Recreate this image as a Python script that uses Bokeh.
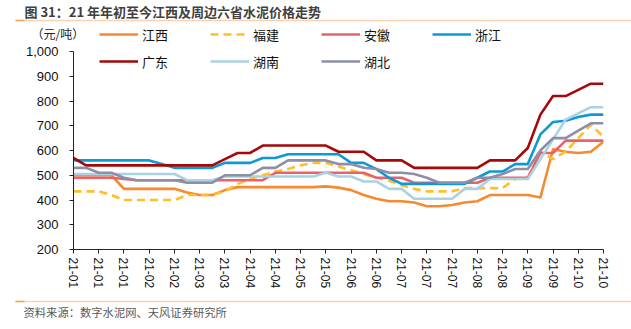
from bokeh.plotting import figure
from bokeh.layouts import column
from bokeh.models import (Range1d, FixedTicker, Label, Legend, LegendItem,
                          NumeralTickFormatter)
from bokeh.embed import file_html
from bokeh.resources import INLINE

# ---------------- data ----------------
weeks = list(range(43))
tick_idx = list(range(0, 43, 2))
tick_labels = ["21-01", "21-01", "21-01", "21-02", "21-02", "21-03", "21-03",
               "21-04", "21-04", "21-05", "21-05", "21-06", "21-06", "21-07",
               "21-07", "21-07", "21-08", "21-08", "21-09", "21-09", "21-10", "21-10"]
y_ticks = [200, 300, 400, 500, 600, 700, 800, 900, 1000]

jiangxi = [500, 500, 500, 500, 445, 445, 445, 445, 445, 430, 420, 420, 440,
           452, 452, 452, 452, 452, 452, 452, 455, 450, 440, 420, 405, 395, 395,
           390, 375, 375, 380, 390, 395, 420, 420, 420, 420, 410, 605, 595, 590,
           595, 635]
fujian = [435, 435, 435, 420, 400, 400, 400, 400, 400, 420, 420, 420, 435,
          465, 485, 500, 515, 525, 540, 550, 550, 535, 520, 505, 490, 478, 460,
          445, 435, 435, 435, 448, 448, 448, 448, 485, 490, 595, 565, 595, 650,
          705, 655]
anhui = [490, 490, 490, 490, 485] + [480] * 11 + [510] * 8 + [490] * 3 + \
        [470] * 6 + [490] * 4 + [590] * 2 + [640] * 4
zhejiang = [560] * 7 + [545] + [530] * 4 + [550] * 3 + [570] * 2 + [585] * 5 + \
           [550] * 2 + [525, 490] + [465] * 6 + [490] + [515] * 2 + [545] * 2 + \
           [665, 715, 720, 735, 745, 745]
guangdong = [570] + [540] * 11 + [565, 590, 590] + [620] * 6 + [595] * 3 + \
            [560] * 3 + [530] * 6 + [560] * 3 + [610, 745, 820, 820, 845, 870, 870]
hunan = [505] * 9 + [480] * 3 + [495] * 8 + [510] + [495] * 2 + [475] * 2 + \
        [445] * 2 + [405] * 4 + [445] * 2 + [485] * 4 + [565, 645, 725, 750, 775, 775]
hubei = [530, 530, 510, 510, 490, 480, 480, 480, 480, 470, 470, 470, 500, 500,
         500, 530, 530, 560, 560, 560, 560, 545, 545, 530, 525, 510, 510, 505,
         490, 470, 470, 470, 490, 490, 505, 525, 525, 600, 650, 650, 680, 710, 710]

series_names = ["江西", "福建", "安徽", "浙江", "广东", "湖南", "湖北"]
series_values = [jiangxi, fujian, anhui, zhejiang, guangdong, hunan, hubei]
series_colors = ["#F7892E", "#FFBE2C", "#E5646B", "#0C9AD6", "#A50808", "#AAD2E2", "#8C8FA8"]
series_dash = ["solid", "8 5", "solid", "solid", "solid", "solid", "solid"]

title_text = "图 31：21 年年初至今江西及周边六省水泥价格走势"
unit_text = "（元/吨）"
source_text = "资料来源：数字水泥网、天风证券研究所"

# ---------------- geometry (canvas pixels) ----------------
W = 631
HEAD_H = 44            # header strip: 0..44
CHART_BOT = 292        # chart strip: 44..292
FL, FR = 73, 603       # frame left/right
Y1000, Y200 = 51, 249  # pixel rows of 1000 and 200

CJK = "Noto Sans CJK SC"
LAT = "Liberation Sans"
LINE_LIGHT = "#FAD2B0"
LINE_DARK = "#F4A261"


def legend_kwargs():
    return dict(orientation="horizontal", glyph_width=39, glyph_height=20,
                label_height=20, label_standoff=4, spacing=42, padding=0, margin=0,
                border_line_alpha=0, background_fill_alpha=0, label_text_font=CJK,
                label_text_font_size="13px", label_text_color="#111111")


# ---------------- header ----------------
head = figure(width=W, height=HEAD_H, output_backend="svg", toolbar_location=None,
              x_range=Range1d(0, W), y_range=Range1d(HEAD_H, 0),
              x_axis_type=None, y_axis_type=None, frame_align=False,
              min_border_left=0, min_border_right=0, min_border_top=0, min_border_bottom=0)
head.grid.visible = False
head.outline_line_color = None
head.segment(x0=[15, 15], y0=[20, 20], x1=[W, 24], y1=[20, 20],
             line_color=[LINE_LIGHT, LINE_DARK], line_width=1.5)
head.add_layout(Label(x=24, y=11, text=title_text, text_font=CJK, text_font_style="bold",
                      text_font_size="13px", text_color="#404040", text_baseline="middle"))
head.add_layout(Label(x=31, y=33, text=unit_text, text_font=CJK, text_font_size="12px",
                      text_color="#222222", text_baseline="middle"))
# legend proxies for the first legend row (placed outside the visible range)
proxies = []
for i in range(4):
    proxies.append(head.line([-50, -40], [-50, -50], line_color=series_colors[i],
                             line_width=2.6, line_dash=series_dash[i]))
head.add_layout(Legend(items=[LegendItem(label=series_names[i], renderers=[proxies[i]])
                              for i in range(4)],
                       location=(99, 0), **legend_kwargs()))

# ---------------- chart ----------------
chart_h = CHART_BOT - HEAD_H
frame_h = Y200 - HEAD_H
px_per_unit = (Y200 - Y1000) / 800.0
y_top = 200 + frame_h / px_per_unit

p = figure(width=W, height=chart_h, output_backend="svg", toolbar_location=None,
           x_range=Range1d(0, 42), y_range=Range1d(200, y_top), frame_align=False,
           min_border_left=FL, min_border_right=W - FR,
           min_border_top=0, min_border_bottom=CHART_BOT - Y200)
p.xgrid.visible = False
p.ygrid.visible = False
p.outline_line_color = None

renderers = []
for name, vals, col, dash in zip(series_names, series_values, series_colors, series_dash):
    renderers.append(p.line(weeks, vals, line_color=col, line_width=2.6, line_dash=dash,
                            line_join="round"))

ya = p.yaxis[0]
ya.bounds = (200, 1000)
ya.ticker = FixedTicker(ticks=y_ticks)
ya.formatter = NumeralTickFormatter(format="0,0")
ya.major_tick_out = 4
ya.major_tick_in = 0
ya.minor_tick_out = 0
ya.minor_tick_in = 0
ya.axis_line_color = "#222222"
ya.major_tick_line_color = "#222222"
ya.major_label_standoff = 11
ya.major_label_text_font = LAT
ya.major_label_text_font_size = "13px"
ya.major_label_text_color = "#111111"

xa = p.xaxis[0]
xa.ticker = FixedTicker(ticks=tick_idx)
xa.major_label_overrides = {i: lab for i, lab in zip(tick_idx, tick_labels)}
xa.major_label_orientation = "vertical"
xa.major_tick_out = 4
xa.major_tick_in = 0
xa.minor_tick_out = 0
xa.minor_tick_in = 0
xa.axis_line_color = "#222222"
xa.major_tick_line_color = "#222222"
xa.major_label_standoff = 4
xa.major_label_text_font = LAT
xa.major_label_text_font_size = "12px"
xa.major_label_text_color = "#111111"

p.add_layout(Legend(items=[LegendItem(label=series_names[i], renderers=[renderers[i]])
                           for i in range(4, 7)],
                    location=(99 - FL, Y200 - 71), **legend_kwargs()))

# ---------------- footer ----------------
foot_h = 329 - CHART_BOT
foot = figure(width=W, height=foot_h, output_backend="svg", toolbar_location=None,
              x_range=Range1d(0, W), y_range=Range1d(329, CHART_BOT),
              x_axis_type=None, y_axis_type=None, frame_align=False,
              min_border_left=0, min_border_right=0, min_border_top=0, min_border_bottom=0)
foot.grid.visible = False
foot.outline_line_color = None
foot.segment(x0=[15, 15], y0=[301, 301], x1=[W, 24], y1=[301, 301],
             line_color=[LINE_LIGHT, LINE_DARK], line_width=1.5)
foot.add_layout(Label(x=23, y=311, text=source_text, text_font=CJK,
                      text_font_size="11.3px", text_color="#595959", text_baseline="middle"))

layout = column(head, p, foot, spacing=0)
open("out.html", "w").write(file_html(layout, INLINE))
